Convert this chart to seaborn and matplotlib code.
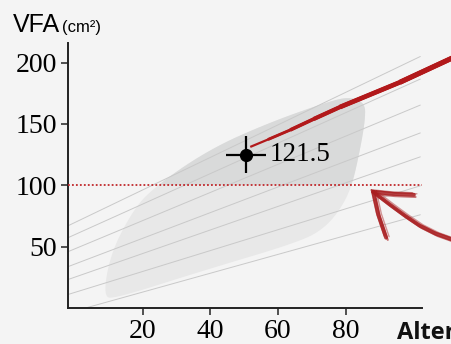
import numpy as np
import pandas as pd
import seaborn as sns
import matplotlib.pyplot as plt
from matplotlib.patches import Polygon, Rectangle

# reference percentile lines (age -> VFA), start and end points
line_x0 = [-2, -2, -2, -2, -2, -2, 3.7]
line_y0 = [67, 57.3, 45.9, 33.7, 23.2, 11, 0.4]
line_x1 = [102, 102, 102, 102, 102, 102, 102]
line_y1 = [205, 186.6, 165.4, 142.7, 123.2, 99.6, 76]

# outline of the grey population cloud
blob_x = [8.4, 10.5, 16.4, 22.3, 39.4, 57.1, 75.4, 81.3, 85.7, 85.7, 84.2,
          81.9, 78.9, 73.9, 66.5, 37.0, 11.9]
blob_y = [9.3, 43.5, 76, 96.3, 128.9, 150.8, 168.7, 172, 167, 153, 128.9,
          100.4, 82.5, 65.4, 54, 29.7, 7.7]

# patient trend (red) and measured value
trend_x = [51.8, 57.0, 63.6, 70.5, 78.3, 96.0, 112.0]
trend_y = [131.3, 137.3, 145.1, 154.0, 163.8, 184.0, 204.5]
pt_age = 50.6
pt_vfa = 125.0
pt_label = "121.5"
pt_xerr = 5.9
pt_yerr = 15
threshold = 100

# hand drawn arrow strokes
arrow_head_a = ([88.1, 89.6, 91.9], [94.7, 76.0, 57.3])
arrow_head_b = ([88.1, 94.0, 100.1], [94.7, 93.0, 92.3])
arrow_shaft = ([88.1, 93.1, 97.5, 101.9, 106.6, 111.5],
               [94.7, 84.1, 75.2, 67.0, 60.5, 55.7])

x_ticks = [20, 40, 60, 80]
y_ticks = [50, 100, 150, 200]


def chaikin(xs, ys, n=3):
    pts = np.column_stack([xs, ys])
    for _ in range(n):
        nxt = np.roll(pts, -1, axis=0)
        q = 0.75 * pts + 0.25 * nxt
        r = 0.25 * pts + 0.75 * nxt
        pts = np.empty((2 * len(q), 2))
        pts[0::2] = q
        pts[1::2] = r
    return pts


sns.set_theme(style='ticks')
plt.rcParams['font.family'] = ['Liberation Serif', 'DejaVu Serif']
plt.rcParams['text.color'] = 'black'
plt.rcParams['xtick.color'] = 'black'
plt.rcParams['ytick.color'] = 'black'
bg = '#f4f4f4'
fig = plt.figure(figsize=(4.51, 3.44), dpi=100, facecolor=bg)
ax = fig.add_axes([68 / 451, 1 - 308 / 344, (422 - 68) / 451, (308 - 43) / 344])
ax.set_facecolor(bg)

# grey cloud, darker above the threshold
pts = chaikin(blob_x, blob_y)
ax.add_patch(Polygon(pts, closed=True, facecolor='#e8e8e8', edgecolor='none', zorder=1))
upper = Polygon(pts, closed=True, facecolor='#d9dada', edgecolor='none', zorder=1.1)
ax.add_patch(upper)
clip = Rectangle((-10, threshold), 200, 300, transform=ax.transData)
upper.set_clip_path(clip)

# percentile lines
rows = []
for i in range(len(line_y0)):
    rows.append((i, line_x0[i], line_y0[i]))
    rows.append((i, line_x1[i], line_y1[i]))
lines_df = pd.DataFrame(rows, columns=['line', 'age', 'vfa'])
sns.lineplot(data=lines_df, x='age', y='vfa', units='line', estimator=None,
             color='#c9c9c9', linewidth=0.7, ax=ax, zorder=2, legend=False)

# threshold
ax.axhline(threshold, color='#c0282b', linewidth=1.3, linestyle=(0, (1, 1.2)), zorder=3)

# red trend, thin at the start and thicker further on
for k, lw in enumerate([1.6, 2.1, 2.6, 3.0, 3.4, 3.7]):
    ax.plot(trend_x[k:], trend_y[k:], color='#b2191b', linewidth=lw,
            solid_capstyle='butt', solid_joinstyle='round', clip_on=False, zorder=4)

# measured point with error cross
ax.errorbar([pt_age], [pt_vfa], xerr=pt_xerr, yerr=pt_yerr, fmt='o', color='black',
            markersize=8.5, elinewidth=1.6, capsize=0, zorder=5)
ax.text(pt_age + 7, pt_vfa, pt_label, fontsize=19.5, va='center', ha='left', zorder=6)

# arrow
for dx, dy, lw, a in [(0, 0, 2.8, 0.85), (0.5, -1.8, 1.5, 0.6), (-0.5, 1.5, 1.3, 0.5),
                      (0.9, 0.8, 1.0, 0.45)]:
    for sx, sy in (arrow_head_a, arrow_head_b, arrow_shaft):
        ax.plot(np.array(sx) + dx, np.array(sy) + dy, color='#a91e20', linewidth=lw,
                alpha=a, clip_on=False, zorder=4, solid_capstyle='round')

ax.set_xlim(-2, 102.5)
ax.set_ylim(0, 216)
ax.set_xticks(x_ticks)
ax.set_yticks(y_ticks)
ax.set_xlabel('')
ax.set_ylabel('')
sns.despine(ax=ax)
for s in ['left', 'bottom']:
    ax.spines[s].set_linewidth(1.4)
    ax.spines[s].set_color('#222222')
ax.tick_params(axis='both', length=5, width=1.1, color='#222222', labelsize=20,
               labelcolor='black', pad=3)

fig.text(13 / 451, 1 - 32 / 344, 'VFA', fontsize=18, family='Liberation Sans', va='baseline')
fig.text(62 / 451, 1 - 32 / 344, '(cm²)', fontsize=12, family='Liberation Sans', va='baseline')
fig.text(397 / 451, 1 - 339 / 344, 'Alter', fontsize=17, family='Open Sans',
         fontweight='bold', va='baseline', color='#111111')

fig.savefig('out.png', dpi=100, facecolor=bg)
